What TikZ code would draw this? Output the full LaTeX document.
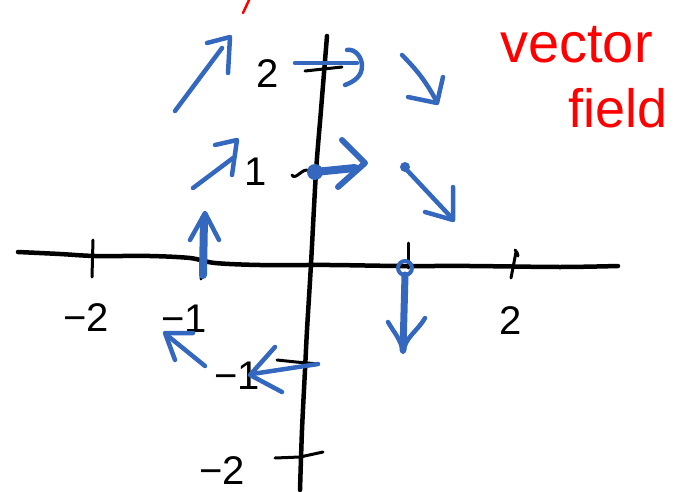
\documentclass[tikz,border=0pt]{standalone}
\usepackage{fontspec}
\setmainfont{Liberation Sans}
\usetikzlibrary{arrows.meta}

\definecolor{penblue}{RGB}{52,103,190}
\definecolor{penred}{RGB}{255,0,0}

\begin{document}
\begin{tikzpicture}[
    x=1pt, y=-1pt,
    axis/.style={draw=black, line width=4.5pt, line cap=round, line join=round},
    tick/.style={draw=black, line width=3pt, line cap=round, line join=round},
    vec/.style={draw=penblue, line width=4.5pt, line cap=round, line join=round},
    fatvec/.style={vec, line width=8pt},
    numlabel/.style={font=\fontsize{40}{40}\selectfont, anchor=base, inner sep=0pt},
    note/.style={text=penred, font=\fontsize{56}{56}\selectfont, anchor=base west, inner sep=0pt}
  ]
  \useasboundingbox (0,0) rectangle (674,492);

  % Axes
  \draw[axis] plot[smooth] coordinates {(18,252) (60,254) (95,256) (150,256) (190,258) (215,263) (260,265) (330,265) (400,266) (470,266) (560,267) (618,266)};
  \draw[axis] plot[smooth] coordinates {(327,36) (321,110) (316,172) (311,264) (307,330) (305,370) (302,430) (300,490)};

  % Ticks
  \draw[tick] (93,240) -- (92,277);
  \draw[tick] (202,262) -- (201,279);
  \draw[tick] (408,243) -- (408,268);
  \draw[tick] (515,250) to[bend left=20] (518,256) (516,252) -- (511,278);
  \draw[tick] (305,71) -- (342,67);
  \draw[tick] (292,175) to[out=-60,in=180] (307,170);
  \draw[tick] (277,360) -- (296,362) -- (318,364);
  \draw[tick] (275,458) -- (300,457) -- (323,452);

  % Tick labels
  \node[numlabel] (xm2) at (86,331) {−2};
  \node[numlabel] (xm1) at (184,332) {−1};
  \node[numlabel] (xp2) at (511,334) {2};
  \node[numlabel] (yp2) at (268,88) {2};
  \node[numlabel] (yp1) at (256,185) {1};
  \node[numlabel] (ym1) at (237,389) {−1};
  \node[numlabel] (ym2) at (222,484) {−2};

  % Vector field
  \draw[vec] (175,111) -- (222,48);
  \draw[vec] (207,43) -- (230,37) -- (228,73);
  \draw[vec] (295,63) -- (357,63);
  \draw[vec] (347,50) to[out=10,in=90] (362,66) to[out=-90,in=20] (345,85);
  \draw[vec] (402,55) to[bend left=8] (437,102);
  \draw[vec] (408,97) -- (437,103) -- (443,77);
  \draw[vec] (193,188) -- (233,158);
  \draw[vec] (215,145) -- (237,140) -- (232,175);
  \fill[penblue] (315,172) circle (8);
  \draw[fatvec] (315,172) -- (355,168);
  \draw[vec, line width=6pt] (342,140) -- (365,163) -- (338,187);
  \fill[penblue] (405,167) circle (5);
  \draw[vec] (405,168) -- (450,216);
  \draw[vec] (425,212) -- (453,220) -- (453,187);
  \draw[fatvec] (203,275) -- (204,218);
  \draw[vec] (190,240) -- (205,213) -- (219,240);
  \draw[vec, line width=4pt] (405,268) circle (7);
  \draw[fatvec, line width=7pt] (405,275) -- (403,350);
  \draw[vec] (388,322) to[out=-60,in=100] (403,352) to[out=80,in=-120] (425,318);
  \draw[vec] (205,366) -- (168,336);
  \draw[vec] (175,360) -- (165,333) -- (193,333);
  \draw[vec] (318,364) -- (252,374);
  \draw[vec] (275,347) -- (250,375) -- (282,392);

  % Title
  \draw[penred, line width=2.5pt, line cap=round] (243,13) -- (250,-2);
  \node[note] (title) at (500,63) {vector};
  \node[note, font=\fontsize{54}{54}\selectfont] (title2) at (568,128) {field};
\end{tikzpicture}
\end{document}
